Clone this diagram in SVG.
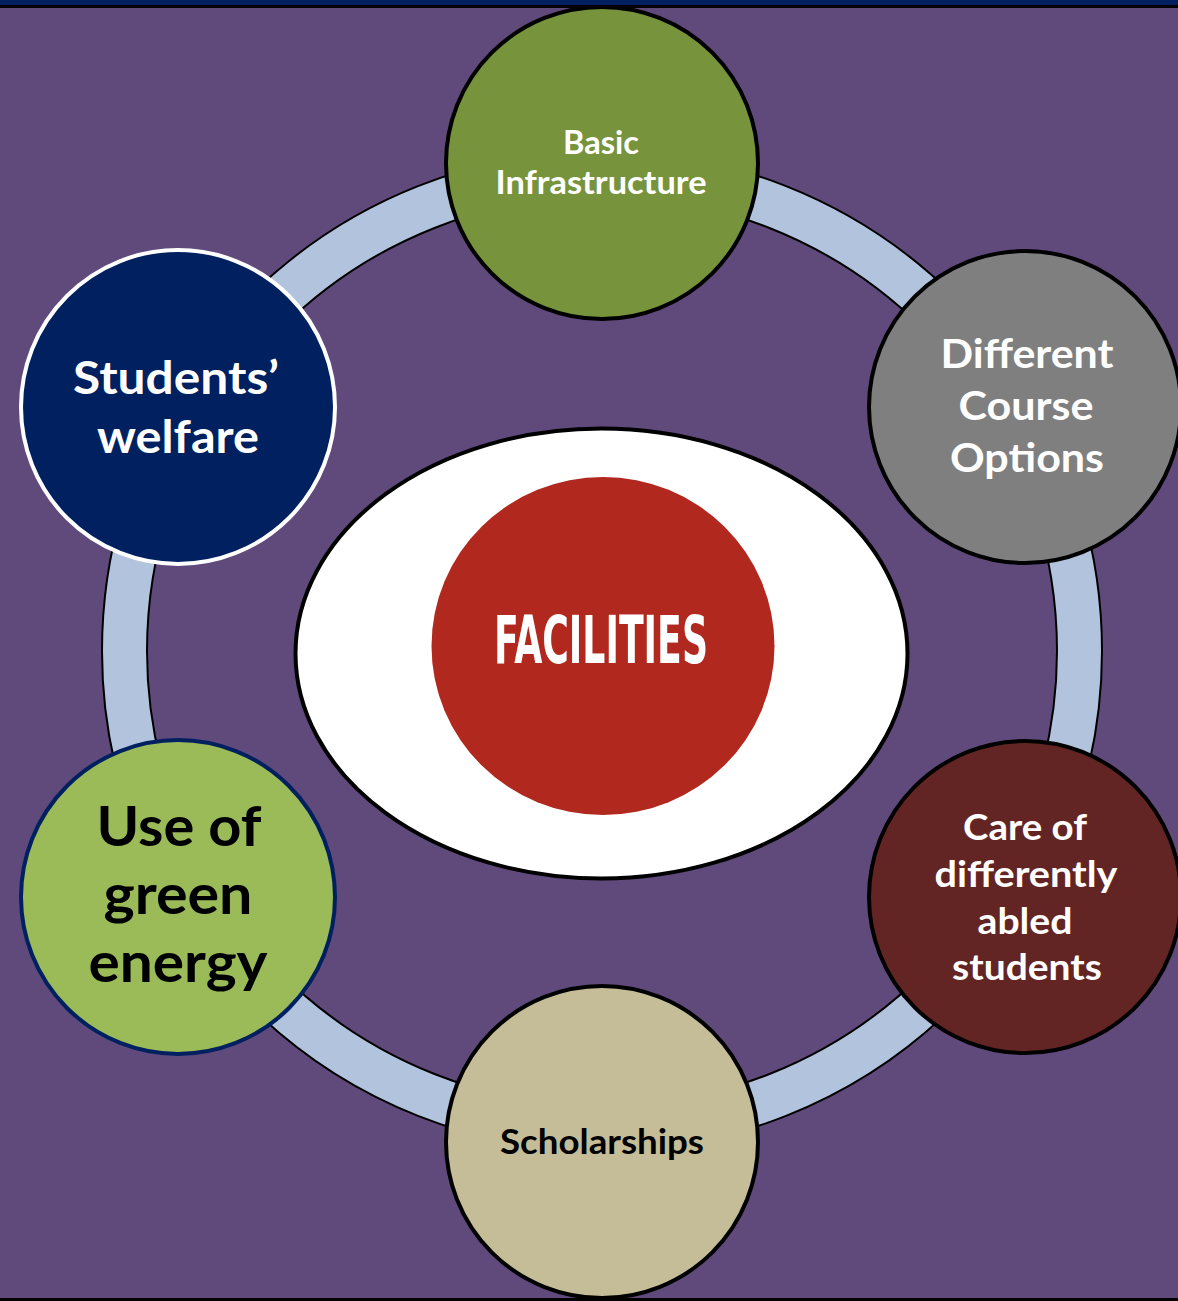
<svg xmlns="http://www.w3.org/2000/svg" width="1178" height="1301" viewBox="0 0 1178 1301">
<style>
.lbl{font-family:Lato,"Open Sans","Liberation Sans",sans-serif;font-weight:700;text-anchor:middle}
.w{fill:#FFFFFF}
.k{fill:#000000}
.node{stroke-width:4}
</style>
<rect x="0" y="0" width="1178" height="1301" fill="#604A7B"/>
<rect x="0" y="0" width="1178" height="5" fill="#002060"/>
<rect x="0" y="5" width="1178" height="3" fill="#000000"/>
<rect x="0" y="1298" width="1178" height="3" fill="#000000"/>
<g id="connectors">
<path d="M102,651 a500,500 0 1,0 1000,0 a500,500 0 1,0 -1000,0 Z M147,651 a455,455 0 1,0 910,0 a455,455 0 1,0 -910,0 Z" fill="#B2C3DD" fill-rule="evenodd" stroke="#000000" stroke-width="2"/>
</g>
<g id="center">
<ellipse cx="601.5" cy="653.5" rx="306" ry="225" fill="#FFFFFF" stroke="#000000" stroke-width="4"/>
<ellipse cx="603" cy="646" rx="171.5" ry="169" fill="#B0281E"/>
<text x="601" y="663" font-family="'Liberation Sans Narrow','DejaVu Sans Condensed','Liberation Sans',sans-serif" font-weight="700" font-size="66" fill="#FFFFFF" text-anchor="middle" textLength="214" lengthAdjust="spacingAndGlyphs">FACILITIES</text>
</g>
<g id="basic-infrastructure">
<circle class="node" cx="602" cy="163" r="156" fill="#77933C" stroke="#000000"/>
<text class="lbl w" x="601" y="154" font-size="32" textLength="76" lengthAdjust="spacingAndGlyphs">Basic</text>
<text class="lbl w" x="601" y="194" font-size="32" textLength="211" lengthAdjust="spacingAndGlyphs">Infrastructure</text>
</g>
<g id="different-course-options">
<circle class="node" cx="1025" cy="407" r="156" fill="#7F7F7F" stroke="#000000"/>
<text class="lbl w" x="1027" y="368" font-size="40" textLength="173" lengthAdjust="spacingAndGlyphs">Different</text>
<text class="lbl w" x="1026" y="420" font-size="40" textLength="135" lengthAdjust="spacingAndGlyphs">Course</text>
<text class="lbl w" x="1027" y="472" font-size="40" textLength="154" lengthAdjust="spacingAndGlyphs">Options</text>
</g>
<g id="care-of-differently-abled-students">
<circle class="node" cx="1025" cy="897" r="156" fill="#632523" stroke="#000000"/>
<text class="lbl w" x="1025" y="840" font-size="37" textLength="124" lengthAdjust="spacingAndGlyphs">Care of</text>
<text class="lbl w" x="1026" y="887" font-size="37" textLength="183" lengthAdjust="spacingAndGlyphs">differently</text>
<text class="lbl w" x="1025" y="934" font-size="37" textLength="95" lengthAdjust="spacingAndGlyphs">abled</text>
<text class="lbl w" x="1027" y="980" font-size="37" textLength="150" lengthAdjust="spacingAndGlyphs">students</text>
</g>
<g id="scholarships">
<circle class="node" cx="602" cy="1142" r="156" fill="#C4BD97" stroke="#000000"/>
<text class="lbl k" x="602" y="1154" font-size="34" textLength="204" lengthAdjust="spacingAndGlyphs">Scholarships</text>
</g>
<g id="use-of-green-energy">
<circle class="node" cx="178" cy="897" r="157" fill="#9BBB59" stroke="#002060"/>
<text class="lbl k" x="179" y="846" font-size="56" textLength="165" lengthAdjust="spacingAndGlyphs">Use of</text>
<text class="lbl k" x="178" y="914" font-size="56" textLength="149" lengthAdjust="spacingAndGlyphs">green</text>
<text class="lbl k" x="178" y="982" font-size="56" textLength="179" lengthAdjust="spacingAndGlyphs">energy</text>
</g>
<g id="students-welfare">
<circle class="node" cx="178" cy="407" r="157" fill="#002060" stroke="#FFFFFF"/>
<text class="lbl w" x="176" y="394" font-size="46" textLength="206" lengthAdjust="spacingAndGlyphs">Students’</text>
<text class="lbl w" x="178" y="453" font-size="46" textLength="162" lengthAdjust="spacingAndGlyphs">welfare</text>
</g>
</svg>
